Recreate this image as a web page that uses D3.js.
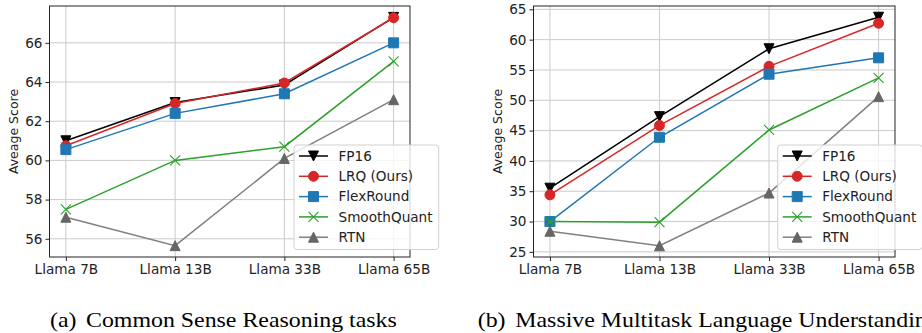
<!DOCTYPE html>
<html>
<head>
<meta charset="utf-8">
<script src="https://cdn.jsdelivr.net/npm/d3@7"></script>
<style>
  html, body { margin: 0; padding: 0; background: #fff; }
  svg { display: block; }
</style>
</head>
<body>
<svg id="chart" width="922" height="333"></svg>
<script>
// ---------- data ----------
const categories = ["Llama 7B", "Llama 13B", "Llama 33B", "Llama 65B"];
const seriesNames = ["FP16", "LRQ (Ours)", "FlexRound", "SmoothQuant", "RTN"];

// (a) Common Sense Reasoning tasks
const csrFP16        = [61.0, 62.95, 63.85, 67.3];
const csrLRQ         = [60.75, 62.9, 63.95, 67.28];
const csrFlexRound   = [60.55, 62.4, 63.4, 66.0];
const csrSmoothQuant = [57.5, 60.0, 60.7, 65.05];
const csrRTN         = [57.1, 55.65, 60.1, 63.1];
const csrTicks = [56, 58, 60, 62, 64, 66];

// (b) Massive Multitask Language Understanding
const mmluFP16        = [35.5, 47.3, 58.5, 63.7];
const mmluLRQ         = [34.4, 45.85, 55.6, 62.7];
const mmluFlexRound   = [30.0, 43.9, 54.3, 57.0];
const mmluSmoothQuant = [30.0, 29.9, 45.1, 53.7];
const mmluRTN         = [28.4, 26.0, 34.7, 50.6];
const mmluTicks = [25, 30, 35, 40, 45, 50, 55, 60, 65];

const captionA = ["(a)", "Common Sense Reasoning tasks"];
const captionB = ["(b)", "Massive Multitask Language Understanding"];
const yLabel = "Aveage Score";

// ---------- styles ----------
const styles = {
  "FP16":        {color: "#000000", fill: "#000000", marker: "tridown"},
  "LRQ (Ours)":  {color: "#d62728", fill: "#d62728", marker: "circle"},
  "FlexRound":   {color: "#1f77b4", fill: "#1f77b4", marker: "square"},
  "SmoothQuant": {color: "#2ca02c", fill: "none",    marker: "x"},
  "RTN":         {color: "#808080", fill: "#666666", marker: "triup"}
};
const FONT = "'DejaVu Sans', sans-serif";
const SERIF = "'Liberation Serif', 'Times New Roman', serif";
const MS = 10; // marker size px

function markerPath(type, s) {
  const h = s / 2;
  switch (type) {
    case "circle": return d3.symbol(d3.symbolCircle, Math.PI * h * h)();
    case "square": return `M${-h},${-h}H${h}V${h}H${-h}Z`;
    case "tridown": return `M0,${h}L${-h},${-h}L${h},${-h}Z`;
    case "triup": return `M0,${-h}L${-h},${h}L${h},${h}Z`;
    case "x": return `M${-h},${-h}L${h},${h}M${-h},${h}L${h},${-h}`;
  }
}

function drawMarker(g, type, st, x, y) {
  const p = g.append("path")
    .attr("d", markerPath(type, MS))
    .attr("transform", `translate(${x},${y})`);
  if (type === "x") {
    p.attr("fill", "none").attr("stroke", st.color).attr("stroke-width", 1.1);
  } else {
    const edge = type === "triup" ? st.fill : st.color;
    p.attr("fill", st.fill).attr("stroke", edge).attr("stroke-width", 1);
  }
}

const svg = d3.select("#chart");

function panel(opts) {
  const {x0, x1, y0, y1, domain, ticks, data, labelX, legendX, legendW} = opts;
  const g = svg.append("g");
  const x = d3.scalePoint().domain(categories).range([x0, x1]).padding(0.15);
  const y = d3.scaleLinear().domain(domain).range([y1, y0]);

  // grid
  g.append("g").selectAll("line").data(ticks).join("line")
    .attr("x1", x0).attr("x2", x1)
    .attr("y1", d => y(d)).attr("y2", d => y(d))
    .attr("stroke", "#cbcbcb").attr("stroke-width", 1);
  g.append("g").selectAll("line").data(categories).join("line")
    .attr("y1", y0).attr("y2", y1)
    .attr("x1", d => x(d)).attr("x2", d => x(d))
    .attr("stroke", "#cbcbcb").attr("stroke-width", 1);

  // axes
  const ya = g.append("g").attr("transform", `translate(${x0},0)`)
    .call(d3.axisLeft(y).tickValues(ticks).tickSize(4).tickPadding(3).tickSizeOuter(0));
  const xa = g.append("g").attr("transform", `translate(0,${y1})`)
    .call(d3.axisBottom(x).tickSize(4).tickPadding(3).tickSizeOuter(0));
  [ya, xa].forEach(a => {
    a.select(".domain").remove();
    a.selectAll(".tick line").attr("stroke", "#222");
    a.selectAll(".tick text").attr("font-family", FONT).attr("font-size", 13.6).attr("fill", "#222");
  });

  // y label
  g.append("text")
    .attr("transform", `translate(${labelX},${(y0 + y1) / 2}) rotate(-90)`)
    .attr("text-anchor", "middle").attr("dy", "0.35em")
    .attr("font-family", FONT).attr("font-size", 12.5).attr("fill", "#222")
    .text(yLabel);

  // series
  const line = d3.line().x((d, i) => x(categories[i])).y(d => y(d));
  seriesNames.forEach((name, k) => {
    const st = styles[name];
    const vals = data[k];
    g.append("path").attr("d", line(vals)).attr("fill", "none")
      .attr("stroke", st.color).attr("stroke-width", 1.5);
    vals.forEach((v, i) => drawMarker(g, st.marker, st, x(categories[i]), y(v)));
  });

  // spines
  g.append("rect").attr("x", x0).attr("y", y0).attr("width", x1 - x0).attr("height", y1 - y0)
    .attr("fill", "none").attr("stroke", "#222").attr("stroke-width", 1);

  // legend
  const lg = g.append("g");
  const ly0 = 145, lh = 104.5;
  lg.append("rect").attr("x", legendX).attr("y", ly0).attr("width", legendW).attr("height", lh)
    .attr("rx", 3).attr("fill", "#fff").attr("fill-opacity", 0.8)
    .attr("stroke", "#d0d0d0").attr("stroke-width", 1);
  seriesNames.forEach((name, k) => {
    const st = styles[name];
    const cy = 156 + k * 20.3;
    const lx = legendX + 5;
    lg.append("line").attr("x1", lx).attr("x2", lx + 29).attr("y1", cy).attr("y2", cy)
      .attr("stroke", st.color).attr("stroke-width", 1.5);
    drawMarker(lg, st.marker, st, lx + 14.5, cy);
    lg.append("text").attr("x", lx + 39.5).attr("y", cy).attr("dy", "0.36em")
      .attr("font-family", FONT).attr("font-size", 13.6).attr("fill", "#222").text(name);
  });
}

panel({x0: 49.5, x1: 410, y0: 6, y1: 257, domain: [55.07, 67.88], ticks: csrTicks,
  data: [csrFP16, csrLRQ, csrFlexRound, csrSmoothQuant, csrRTN], labelX: 14, legendX: 294, legendW: 144.7});
panel({x0: 533.5, x1: 895, y0: 6, y1: 257, domain: [24.15, 65.55], ticks: mmluTicks,
  data: [mmluFP16, mmluLRQ, mmluFlexRound, mmluSmoothQuant, mmluRTN], labelX: 498, legendX: 777.7, legendW: 144.7});

// captions (Times-like, horizontally stretched to match the reference widths)
const capG = svg.append("g");
function capText(str, x) {
  return capG.append("text").attr("x", 0).attr("y", 0)
    .attr("font-family", SERIF).attr("font-size", 21.5).attr("fill", "#000").text(str)
    .attr("transform", `translate(${x},327)`);
}
const ta = capText(captionA[1], 86);
const sx = 311 / ta.node().getComputedTextLength();
function place(sel, x) { sel.attr("transform", `translate(${x},327) scale(${sx},1)`); }
place(ta, 86);
place(capText(captionA[0], 50), 50);
place(capText(captionB[0], 477.7), 477.7);
place(capText(captionB[1], 515.3), 515.3);
</script>
</body>
</html>
